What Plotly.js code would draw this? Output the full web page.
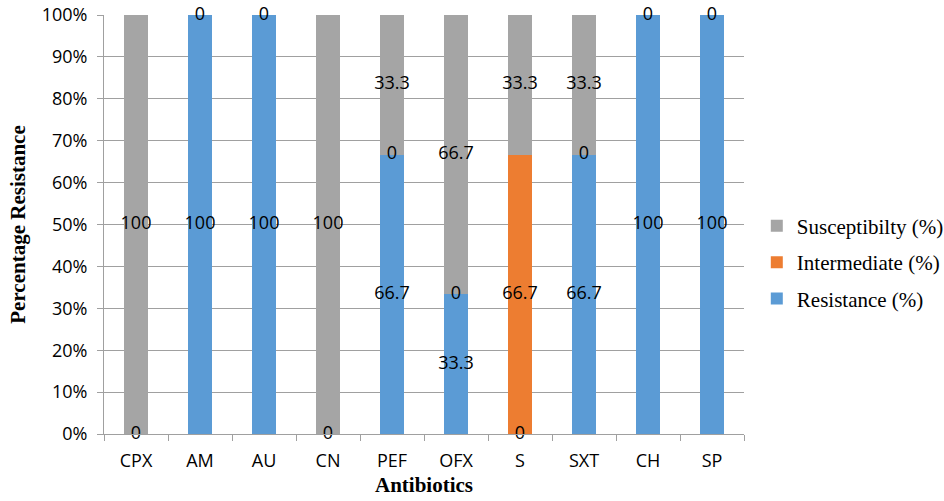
<!DOCTYPE html>
<html><head><meta charset="utf-8">
<script src="https://cdn.plot.ly/plotly-3.0.1.min.js"></script>
<style>html,body{margin:0;padding:0;background:#fff}#chart{width:944px;height:501px}</style>
</head><body><div id="chart"></div>
<script>
const categories = ["CPX","AM","AU","CN","PEF","OFX","S","SXT","CH","SP"];
const resistance = [0,100,100,0,66.7,33.3,0,66.7,100,100];
const intermediate = [null,null,null,null,0,0,66.7,0,null,null];
const susceptibility = [100,0,0,100,33.3,66.7,33.3,33.3,0,0];
const seriesNames = ["Resistance (%)","Intermediate (%)","Susceptibilty (%)"];
const colors = ["#5b9bd5","#ed7d31","#a5a5a5"];
const yTickVals = [0,10,20,30,40,50,60,70,80,90,100];
const yTickText = ["0%","10%","20%","30%","40%","50%","60%","70%","80%","90%","100%"];
const series = [resistance, intermediate, susceptibility];

const traces = [];
series.forEach((vals,i)=>{
  traces.push({type:'bar',x:categories,y:vals.map(v=>v===null?0:v),name:seriesNames[i],
    legendgroup:'g'+i,legendrank:3-i,marker:{color:colors[i]},hoverinfo:'skip'});
});
const base = categories.map(()=>0);
series.forEach((vals,i)=>{
  const xs=[],ys=[],ts=[];
  vals.forEach((v,j)=>{
    if(v!==null){xs.push(categories[j]);ys.push(base[j]+v/2);ts.push(String(v));base[j]+=v;}
  });
  traces.push({type:'scatter',mode:'text',x:xs,y:ys,text:ts,textposition:'middle center',
    textfont:{family:'Open Sans, sans-serif',size:18,color:'#000'},
    showlegend:false,hoverinfo:'skip',cliponaxis:false});
});

const layout = {
  width:944,height:501,margin:{l:104,r:200,t:15,b:67,autoexpand:false},
  paper_bgcolor:'#fff',plot_bgcolor:'#fff',
  barmode:'stack',bargap:0.61,
  font:{family:'Open Sans, sans-serif',size:18,color:'#000'},
  xaxis:{type:'category',tickson:'boundaries',ticks:'outside',ticklen:6,tickcolor:'#a0a0a0',
    showline:true,linecolor:'#a0a0a0',showgrid:false,automargin:false,ticklabelstandoff:10,
    tickfont:{family:'Open Sans, sans-serif',size:18},
    title:{text:'<b>Antibiotics</b>',font:{family:'Liberation Serif, serif',size:21},standoff:6}},
  yaxis:{range:[0,100],tickvals:yTickVals,ticktext:yTickText,automargin:false,
    ticks:'outside',ticklen:6,tickcolor:'#a0a0a0',showline:true,linecolor:'#a0a0a0',
    showgrid:true,gridcolor:'#a0a0a0',zeroline:false,ticklabelstandoff:6,
    tickfont:{family:'Open Sans, sans-serif',size:18},
    title:{text:'<b>Percentage Resistance</b>',font:{family:'Liberation Serif, serif',size:21},standoff:10}},
  legend:{x:1.02,y:0.41,xanchor:'left',yanchor:'middle',traceorder:'grouped',
    font:{family:'Liberation Serif, serif',size:21},itemwidth:30,tracegroupgap:6}
};
Plotly.newPlot('chart',traces,layout,{displayModeBar:false,staticPlot:true});
</script></body></html>
